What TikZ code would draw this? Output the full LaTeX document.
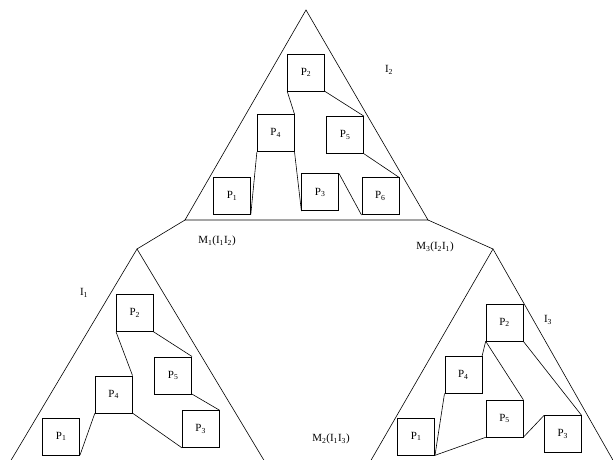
\documentclass[tikz,border=0pt]{standalone}
\usepackage{fontspec}
\setmainfont{Liberation Serif}
\begin{document}
\begin{tikzpicture}[x=1bp,y=1bp,
  pbox/.style={draw, line width=0.6bp, minimum width=37bp, minimum height=37bp, inner sep=0pt, font=\fontsize{11}{12}\selectfont},
  lbl/.style={font=\fontsize{11}{12}\selectfont, inner sep=0pt},
  ln/.style={line width=0.6bp}]
\useasboundingbox (0,0) rectangle (613,-460);
% ---------- top triangle ----------
\coordinate (Ta) at (306,-10);
\coordinate (Tl) at (185,-220);
\coordinate (Tr) at (428,-220);
\draw[ln] (Tl) -- (Ta) -- (Tr) -- cycle;
\node[lbl] (I2) at (389,-70) {I\textsubscript{2}};
\node[pbox] (t2) at (306,-72.5) {P\textsubscript{2}};
\node[pbox] (t4) at (275.7,-133) {P\textsubscript{4}};
\node[pbox] (t5) at (345.2,-135) {P\textsubscript{5}};
\node[pbox] (t1) at (232,-195.7) {P\textsubscript{1}};
\node[pbox] (t3) at (320.2,-192.3) {P\textsubscript{3}};
\node[pbox] (t6) at (380.3,-196.2) {P\textsubscript{6}};
\draw[ln] (t2.south west) -- (t4.north east);
\draw[ln] (t4.south east) -- (t3.south west);
\draw[ln] (t4.south west) -- (t1.south east);
\draw[ln] (t2.south east) -- (t5.north east);
\draw[ln] (t5.south east) -- (t6.north east);
\draw[ln] (t3.north east) -- (t6.south west);
% ---------- left triangle ----------
\coordinate (La) at (137,-249);
\coordinate (Ll) at (10,-462);
\coordinate (Lr) at (265,-462);
\draw[ln] (Tl) -- (La);
\draw[ln] (Ll) -- (La) -- (Lr);
\node[lbl] (I1) at (84,-293) {I\textsubscript{1}};
\node[lbl] (M1) at (217,-241) {M\textsubscript{1}(I\textsubscript{1}I\textsubscript{2})};
\node[pbox] (l2) at (134.8,-313) {P\textsubscript{2}};
\node[pbox] (l5) at (173.2,-375.3) {P\textsubscript{5}};
\node[pbox] (l4) at (113.7,-394.3) {P\textsubscript{4}};
\node[pbox] (l1) at (61.2,-436.3) {P\textsubscript{1}};
\node[pbox] (l3) at (200.7,-429) {P\textsubscript{3}};
\draw[ln] (l2.south west) -- (l4.north east);
\draw[ln] (l2.south east) -- (l5.north east);
\draw[ln] (l5.south east) -- (l3.north east);
\draw[ln] (l4.south west) -- (l1.south east);
\draw[ln] (l4.south east) -- (l3.south west);
% ---------- right triangle ----------
\coordinate (Ra) at (493,-249);
\coordinate (Rl) at (370,-462);
\coordinate (Rr) at (614,-462);
\draw[ln] (Tr) -- (Ra);
\draw[ln] (Rl) -- (Ra) -- (Rr);
\node[lbl] (I3) at (548,-320) {I\textsubscript{3}};
\node[lbl] (M3) at (435,-247) {M\textsubscript{3}(I\textsubscript{2}I\textsubscript{1})};
\node[lbl] (M2) at (331,-439) {M\textsubscript{2}(I\textsubscript{1}I\textsubscript{3})};
\node[pbox] (r2) at (504.5,-322.5) {P\textsubscript{2}};
\node[pbox] (r4) at (463.3,-374.7) {P\textsubscript{4}};
\node[pbox] (r5) at (504.5,-418.5) {P\textsubscript{5}};
\node[pbox] (r1) at (416.2,-436.5) {P\textsubscript{1}};
\node[pbox] (r3) at (562.8,-434.2) {P\textsubscript{3}};
\draw[ln] (r2.south west) -- (r4.north east);
\draw[ln] (r2.south west) -- (r5.north east);
\draw[ln] (r2.south east) -- (r3.north east);
\draw[ln] (r4.south west) -- (r1.south east);
\draw[ln] (r1.south east) -- (r5.south west);
\draw[ln] (r5.south east) -- (r3.north west);
\end{tikzpicture}
\end{document}
